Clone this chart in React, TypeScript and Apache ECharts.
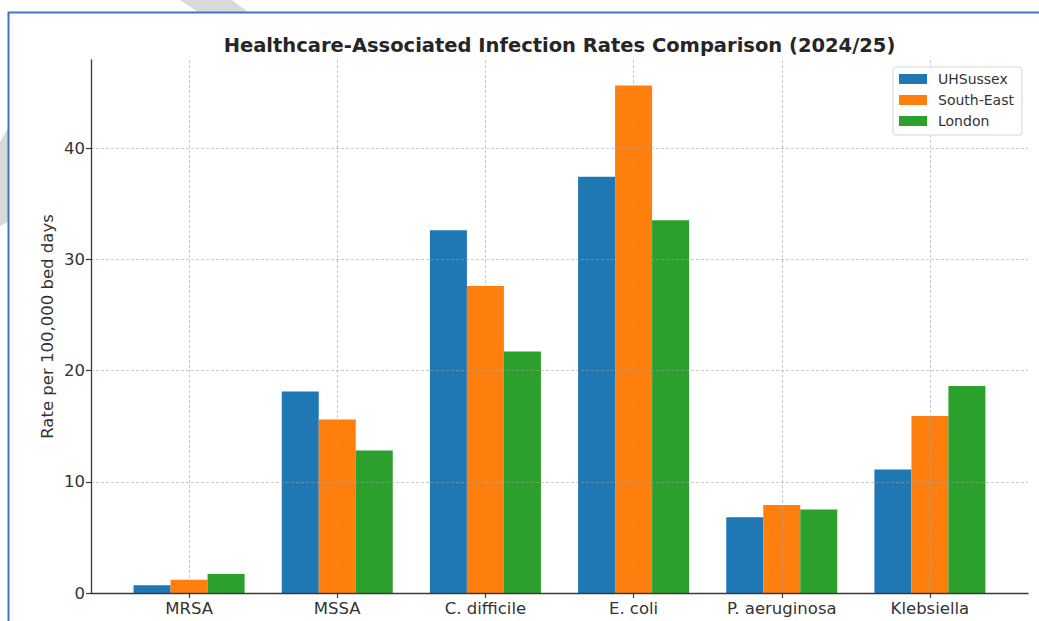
import React, { useEffect, useRef } from 'react';
import * as echarts from 'echarts';

const categories = ['MRSA', 'MSSA', 'C. difficile', 'E. coli', 'P. aeruginosa', 'Klebsiella'];
const seriesNames = ['UHSussex', 'South-East', 'London'];
const uhSussex = [0.7, 18.1, 32.6, 37.4, 6.8, 11.1];
const southEast = [1.2, 15.6, 27.6, 45.6, 7.9, 15.9];
const london = [1.7, 12.8, 21.7, 33.5, 7.5, 18.6];
const seriesColors = ['#1f77b4', '#ff7f0e', '#2ca02c'];
const yTickMax = 40;
const yTickStep = 10;
const yMax = 47.9;
const titleText = 'Healthcare-Associated Infection Rates Comparison (2024/25)';
const yAxisTitle = 'Rate per 100,000 bed days';

const FONT = 'DejaVu Sans';
const gridLine = { show: true, lineStyle: { type: [3, 2] as any, color: 'rgba(160,160,160,0.55)', width: 1 } };
const spine = { color: '#3a3a3a', width: 1.3 };

export default function App() {
  const ref = useRef<HTMLDivElement>(null);
  useEffect(() => {
    if (!ref.current) return;
    const chart = echarts.init(ref.current, undefined, { renderer: 'svg' });
    const values = [uhSussex, southEast, london];
    chart.setOption({
      animation: false,
      backgroundColor: '#ffffff',
      textStyle: { fontFamily: FONT },
      grid: [
        { left: 91, right: 11, top: 148, bottom: 28 },
        { left: 91, right: 11, top: 60, bottom: 28 },
        { left: 115, right: 35, top: 60, bottom: 28 },
      ],
      xAxis: [
        { gridIndex: 0, type: 'value', min: 0, max: 1, show: false },
        {
          gridIndex: 1, type: 'value', min: 0, max: 1, z: 10,
          axisLine: { show: true, lineStyle: spine },
          axisTick: { show: false }, axisLabel: { show: false }, splitLine: { show: false },
        },
        {
          gridIndex: 2, type: 'category', data: categories, z: 10,
          axisLine: { show: false },
          axisTick: { show: true, alignWithLabel: true, length: 5, lineStyle: { color: '#3a3a3a', width: 1.2 } },
          axisLabel: { fontSize: 16.5, color: '#333', margin: 7, fontFamily: FONT },
          splitLine: { ...gridLine, alignWithLabel: true },
        },
      ],
      yAxis: [
        {
          gridIndex: 0, type: 'value', min: 0, max: yTickMax, interval: yTickStep, z: 10,
          axisLine: { show: false },
          axisTick: { show: true, length: 5, lineStyle: { color: '#3a3a3a', width: 1.2 } },
          axisLabel: { fontSize: 16.5, color: '#333', margin: 6, fontFamily: FONT },
          splitLine: gridLine,
        },
        {
          gridIndex: 1, type: 'value', min: 0, max: yMax, z: 10,
          axisLine: { show: true, lineStyle: spine },
          axisTick: { show: false }, axisLabel: { show: false }, splitLine: { show: false },
          name: yAxisTitle, nameLocation: 'middle', nameGap: 35,
          nameTextStyle: { fontSize: 16.5, color: '#333', fontFamily: FONT },
        },
        { gridIndex: 2, type: 'value', min: 0, max: yMax, show: false },
      ],
      legend: {
        data: seriesNames, orient: 'vertical', left: 893, top: 67, z: 20,
        itemWidth: 28, itemHeight: 10, itemGap: 7, icon: 'rect',
        padding: [5, 8, 7, 6],
        borderColor: '#d6d6d6', borderWidth: 1, borderRadius: 3,
        backgroundColor: 'rgba(255,255,255,0.85)',
        textStyle: { fontSize: 14, color: '#333', fontFamily: FONT, padding: [0, 0, 0, 6] },
      },
      series: seriesNames.map((name, i) => ({
        name, type: 'bar', xAxisIndex: 2, yAxisIndex: 2,
        data: values[i], barWidth: 37, barGap: '0%', z: 2,
        itemStyle: { color: seriesColors[i] },
      })),
      graphic: [
        { type: 'polygon', z: 0, shape: { points: [[180, 0], [232, 0], [248, 12], [198, 12]] }, style: { fill: '#d9d9d9' } },
        { type: 'polygon', z: 0, shape: { points: [[0, 142], [8, 128], [8, 222], [0, 226]] }, style: { fill: '#d9d9d9' } },
        { type: 'rect', z: 1, shape: { x: 8.5, y: 12.5, width: 1100, height: 700 }, style: { fill: 'none', stroke: '#4472c4', lineWidth: 2 } },
        {
          type: 'text', z: 30, x: 559.5, y: 45,
          style: { text: titleText, font: `bold 19.5px "${FONT}"`, fill: '#262626', align: 'center', verticalAlign: 'middle', textAlign: 'center', textVerticalAlign: 'middle' },
        },
      ],
    });
    return () => chart.dispose();
  }, []);
  return <div ref={ref} style={{ position: 'fixed', left: 0, top: 0, width: 1039, height: 621 }} />;
}
